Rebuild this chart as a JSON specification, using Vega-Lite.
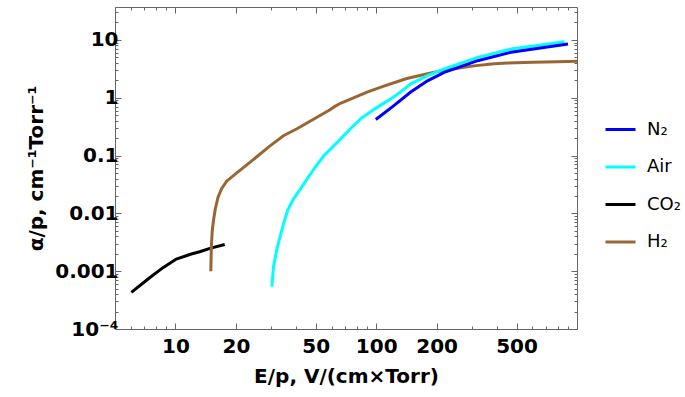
{
 "$schema": "https://vega.github.io/schema/vega-lite/v6.json",
 "width": 462, "height": 322,
 "autosize": {"type": "none"},
 "padding": {"left": 115, "top": 7, "right": 108, "bottom": 68},
 "background": "white",
 "config": {"view": {"stroke": "#666", "strokeWidth": 1}, "font": "DejaVu Sans"},
 "data": {"values": [
  {"gas": "CO₂", "E": 6.03, "a": 0.00043},
  {"gas": "CO₂", "E": 7.44, "a": 0.00077},
  {"gas": "CO₂", "E": 8.67, "a": 0.00115},
  {"gas": "CO₂", "E": 10.1, "a": 0.00162},
  {"gas": "CO₂", "E": 12, "a": 0.00198},
  {"gas": "CO₂", "E": 13.2, "a": 0.00217},
  {"gas": "CO₂", "E": 15, "a": 0.0025},
  {"gas": "CO₂", "E": 17.6, "a": 0.0029},
  {"gas": "H₂", "E": 15.0, "a": 0.001},
  {"gas": "H₂", "E": 15.1, "a": 0.0027},
  {"gas": "H₂", "E": 15.25, "a": 0.005},
  {"gas": "H₂", "E": 15.5, "a": 0.0079},
  {"gas": "H₂", "E": 15.8, "a": 0.012},
  {"gas": "H₂", "E": 16.3, "a": 0.019},
  {"gas": "H₂", "E": 17.0, "a": 0.027},
  {"gas": "H₂", "E": 18.0, "a": 0.036},
  {"gas": "H₂", "E": 20.2, "a": 0.05},
  {"gas": "H₂", "E": 23.5, "a": 0.076},
  {"gas": "H₂", "E": 29.6, "a": 0.147},
  {"gas": "H₂", "E": 34.5, "a": 0.22},
  {"gas": "H₂", "E": 40.3, "a": 0.29},
  {"gas": "H₂", "E": 50.7, "a": 0.46},
  {"gas": "H₂", "E": 58, "a": 0.6},
  {"gas": "H₂", "E": 62, "a": 0.7},
  {"gas": "H₂", "E": 66.3, "a": 0.8},
  {"gas": "H₂", "E": 75, "a": 0.95},
  {"gas": "H₂", "E": 90, "a": 1.25},
  {"gas": "H₂", "E": 110, "a": 1.6},
  {"gas": "H₂", "E": 142, "a": 2.15},
  {"gas": "H₂", "E": 180, "a": 2.6},
  {"gas": "H₂", "E": 209, "a": 2.9},
  {"gas": "H₂", "E": 264, "a": 3.3},
  {"gas": "H₂", "E": 306, "a": 3.55},
  {"gas": "H₂", "E": 387, "a": 3.85},
  {"gas": "H₂", "E": 450, "a": 3.98},
  {"gas": "H₂", "E": 600, "a": 4.1},
  {"gas": "H₂", "E": 800, "a": 4.18},
  {"gas": "H₂", "E": 1000, "a": 4.25},
  {"gas": "Air", "E": 30.2, "a": 0.00054},
  {"gas": "Air", "E": 30.8, "a": 0.0012},
  {"gas": "Air", "E": 32, "a": 0.0024},
  {"gas": "Air", "E": 34.5, "a": 0.0065},
  {"gas": "Air", "E": 36.3, "a": 0.0115},
  {"gas": "Air", "E": 38.6, "a": 0.0175},
  {"gas": "Air", "E": 41.8, "a": 0.026},
  {"gas": "Air", "E": 45.2, "a": 0.039},
  {"gas": "Air", "E": 49.5, "a": 0.062},
  {"gas": "Air", "E": 54.7, "a": 0.098},
  {"gas": "Air", "E": 63.8, "a": 0.167},
  {"gas": "Air", "E": 74.4, "a": 0.29},
  {"gas": "Air", "E": 83.5, "a": 0.43},
  {"gas": "Air", "E": 101, "a": 0.68},
  {"gas": "Air", "E": 118, "a": 0.95},
  {"gas": "Air", "E": 132, "a": 1.25},
  {"gas": "Air", "E": 148, "a": 1.72},
  {"gas": "Air", "E": 180, "a": 2.4},
  {"gas": "Air", "E": 218, "a": 3.13},
  {"gas": "Air", "E": 320, "a": 4.99},
  {"gas": "Air", "E": 469, "a": 6.95},
  {"gas": "Air", "E": 867, "a": 9.3},
  {"gas": "N₂", "E": 99.5, "a": 0.42},
  {"gas": "N₂", "E": 122, "a": 0.72},
  {"gas": "N₂", "E": 148, "a": 1.24},
  {"gas": "N₂", "E": 180, "a": 1.96},
  {"gas": "N₂", "E": 218, "a": 2.74},
  {"gas": "N₂", "E": 320, "a": 4.36},
  {"gas": "N₂", "E": 469, "a": 6.1},
  {"gas": "N₂", "E": 902, "a": 8.5}
 ]},
 "layer": [
  {
   "mark": {"type": "line", "strokeWidth": 3, "clip": true},
   "encoding": {
    "x": {"field": "E", "type": "quantitative",
     "scale": {"type": "log", "domain": [5, 1000], "nice": false},
     "axis": {"orient": "bottom",
      "values": [5,6,7,8,9,10,20,30,40,50,60,70,80,90,100,200,300,400,500,600,700,800,900],
      "labelExpr": "indexof([10,20,50,100,200,500], datum.value) >= 0 ? datum.value + '' : ''",
      "tickSize": {"condition": {"test": "indexof([10,20,50,100,200,500], datum.value) >= 0", "value": -6}, "value": -3},
      "tickColor": "#666", "domain": false, "grid": false,
      "labelFont": "DejaVu Sans", "labelFontWeight": "bold", "labelFontSize": 20, "labelColor": "black",
      "labelPadding": 13, "labelOverlap": false, "labelFlush": false, "labelBound": false,
      "title": "E/p, V/(cm×Torr)", "titleFont": "DejaVu Sans", "titleFontSize": 20, "titleFontWeight": "bold", "titleColor": "black", "titlePadding": 7}},
    "y": {"field": "a", "type": "quantitative",
     "scale": {"type": "log", "domain": [0.0001, 37], "nice": false},
     "axis": {"orient": "left",
      "values": [0.0001,0.0002,0.0003,0.0004,0.0005,0.0006,0.0007,0.0008,0.0009,0.001,0.002,0.003,0.004,0.005,0.006,0.007,0.008,0.009,0.01,0.02,0.03,0.04,0.05,0.06,0.07,0.08,0.09,0.1,0.2,0.3,0.4,0.5,0.6,0.7,0.8,0.9,1,2,3,4,5,6,7,8,9,10,20,30],
      "labelExpr": "datum.value == 0.0001 ? '10⁻⁴' : (indexof([0.001,0.01,0.1,1,10], datum.value) >= 0 ? format(datum.value, '~g') : '')",
      "tickSize": {"condition": {"test": "indexof([0.0001,0.001,0.01,0.1,1,10], datum.value) >= 0", "value": -6}, "value": -3},
      "tickColor": "#666", "domain": false, "grid": false,
      "labelFont": "DejaVu Sans", "labelFontWeight": "bold", "labelFontSize": 20, "labelColor": "black",
      "labelPadding": 3, "labelOverlap": false, "labelFlush": false, "labelBound": false,
      "title": "α/p, cm⁻¹Torr⁻¹", "titleFont": "DejaVu Sans", "titleFontSize": 20, "titleFontWeight": "bold", "titleColor": "black", "titlePadding": 8}},
    "color": {"field": "gas", "type": "nominal",
     "scale": {"domain": ["N₂", "Air", "CO₂", "H₂"], "range": ["#0000ff", "#00ffff", "#000000", "#996633"]},
     "legend": {"orient": "none", "legendX": 489, "legendY": 106, "title": null, "padding": 0,
      "symbolType": "stroke", "symbolSize": 900, "symbolStrokeWidth": 3,
      "labelFont": "DejaVu Sans", "labelFontSize": 18, "labelColor": "black", "labelOffset": 10, "rowPadding": 11.5}}
   }
  },
  {
   "mark": {"type": "line", "opacity": 0},
   "encoding": {
    "x": {"field": "E", "type": "quantitative",
     "scale": {"type": "log", "domain": [5, 1000], "nice": false},
     "axis": {"orient": "top",
      "values": [5,6,7,8,9,10,20,30,40,50,60,70,80,90,100,200,300,400,500,600,700,800,900],
      "labels": false,
      "tickSize": {"condition": {"test": "indexof([10,20,50,100,200,500], datum.value) >= 0", "value": -6}, "value": -3},
      "tickColor": "#666", "domain": false, "grid": false, "title": null}},
    "y": {"field": "a", "type": "quantitative",
     "scale": {"type": "log", "domain": [0.0001, 37], "nice": false},
     "axis": {"orient": "right",
      "values": [0.0001,0.0002,0.0003,0.0004,0.0005,0.0006,0.0007,0.0008,0.0009,0.001,0.002,0.003,0.004,0.005,0.006,0.007,0.008,0.009,0.01,0.02,0.03,0.04,0.05,0.06,0.07,0.08,0.09,0.1,0.2,0.3,0.4,0.5,0.6,0.7,0.8,0.9,1,2,3,4,5,6,7,8,9,10,20,30],
      "labels": false,
      "tickSize": {"condition": {"test": "indexof([0.0001,0.001,0.01,0.1,1,10], datum.value) >= 0", "value": -6}, "value": -3},
      "tickColor": "#666", "domain": false, "grid": false, "title": null}}
   }
  }
 ],
 "resolve": {"axis": {"x": "independent", "y": "independent"}}
}
